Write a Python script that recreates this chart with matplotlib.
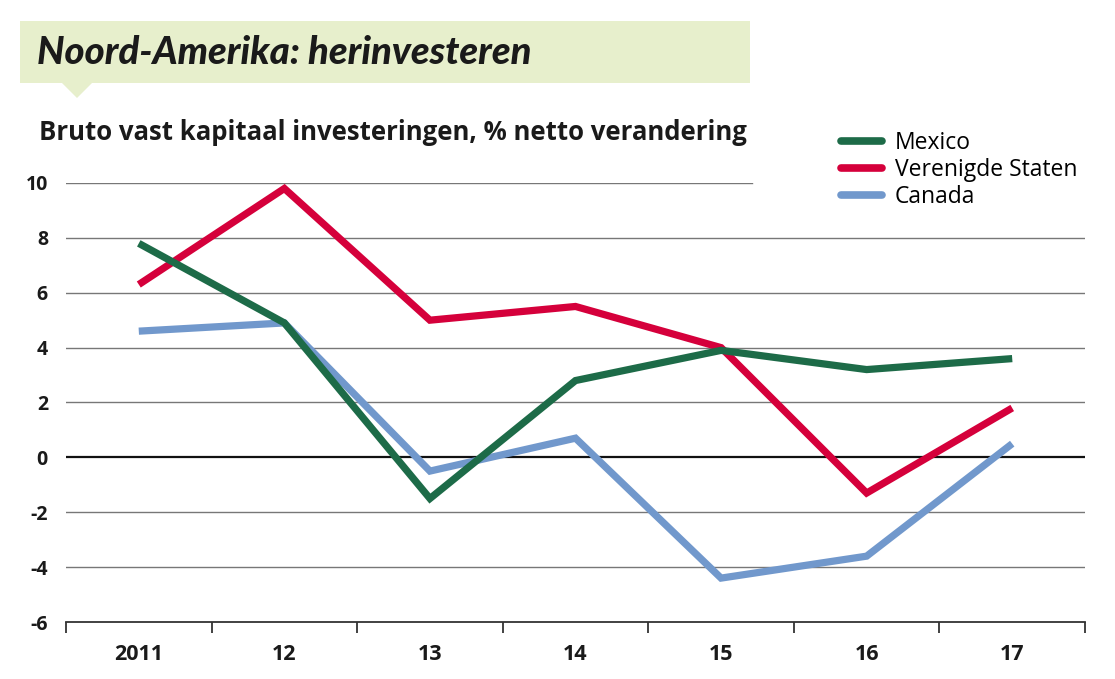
import matplotlib.pyplot as plt
from matplotlib.patches import Rectangle, Polygon
from matplotlib.lines import Line2D

# Data
years = ["2011", "12", "13", "14", "15", "16", "17"]
mexico = [7.8, 4.9, -1.5, 2.8, 3.9, 3.2, 3.6]
verenigde_staten = [6.3, 9.8, 5.0, 5.5, 4.0, -1.3, 1.8]
canada = [4.6, 4.9, -0.5, 0.7, -4.4, -3.6, 0.5]
y_ticks = [-6, -4, -2, 0, 2, 4, 6, 8, 10]

series_names = ["Mexico", "Verenigde Staten", "Canada"]
series_colors = ["#1d6b48", "#d5003b", "#7198cc"]

W, H = 1115, 679
fig = plt.figure(figsize=(W / 100, H / 100), dpi=100)

# Title box with little pointer
fig.patches.append(Rectangle((20 / W, 1 - 83 / H), 730 / W, 62 / H,
                             transform=fig.transFigure, facecolor="#e7efcc",
                             edgecolor="none", zorder=0))
fig.patches.append(Polygon([(62 / W, 1 - 83 / H), (92 / W, 1 - 83 / H), (77 / W, 1 - 98 / H)],
                           closed=True, transform=fig.transFigure,
                           facecolor="#e7efcc", edgecolor="none", zorder=0))
fig.text(37 / W, 1 - 53 / H, "Noord-Amerika: herinvesteren", fontsize=27.5,
         fontweight="black", fontstyle="italic", family="Lato", color="#1a1a1a",
         va="center", ha="left")
fig.text(39 / W, 1 - 133 / H, "Bruto vast kapitaal investeringen, % netto verandering",
         fontsize=18.5, fontweight="bold", family="Open Sans", color="#1a1a1a",
         va="center", ha="left")

ax = fig.add_axes([66 / W, 1 - 622 / H, (1085 - 66) / W, (622 - 183) / H])
x = list(range(len(years)))

# grid lines
for v in y_ticks:
    if v == -6:
        continue
    if v == 0:
        ax.axhline(v, color="#111111", lw=1.6, zorder=1)
    elif v == 10:
        ax.axhline(v, xmax=(752 - 66) / (1085 - 66), color="#777777", lw=1.0, zorder=1)
    else:
        ax.axhline(v, color="#777777", lw=1.0, zorder=1)

for vals, c in zip([canada, verenigde_staten, mexico], [series_colors[2], series_colors[1], series_colors[0]]):
    ax.plot(x, vals, color=c, lw=5.2, solid_capstyle="butt", solid_joinstyle="miter", zorder=3)

ax.set_xlim(-0.5, len(years) - 0.5)
ax.set_ylim(-6, 10)
for s in ["top", "right", "left"]:
    ax.spines[s].set_visible(False)
ax.spines["bottom"].set_color("#333333")
ax.spines["bottom"].set_linewidth(1.3)

ax.set_yticks(y_ticks)
ax.set_yticklabels([str(v) for v in y_ticks])
ax.tick_params(axis="y", length=0, pad=13, labelsize=14)
ax.set_xticks(x)
ax.set_xticklabels(years)
ax.tick_params(axis="x", which="major", length=0, pad=16, labelsize=15.5)
ax.set_xticks([i - 0.5 for i in range(len(years) + 1)], minor=True)
ax.tick_params(axis="x", which="minor", length=8, width=1.3, color="#333333", direction="out")
for lab in ax.get_yticklabels() + ax.get_xticklabels():
    lab.set_fontweight("bold")
    lab.set_family("Open Sans")
    lab.set_color("#1a1a1a")

handles = [Line2D([0], [0], color=c, lw=5.5, solid_capstyle="round") for c in series_colors]
leg = fig.legend(handles, series_names, loc="upper left", bbox_to_anchor=(832 / W, 1 - 122 / H),
                 frameon=False, prop={"family": "Open Sans", "size": 16.5},
                 handlelength=1.8, handletextpad=0.55, labelspacing=0.12, borderaxespad=0)

fig.savefig("out.png", dpi=100)
